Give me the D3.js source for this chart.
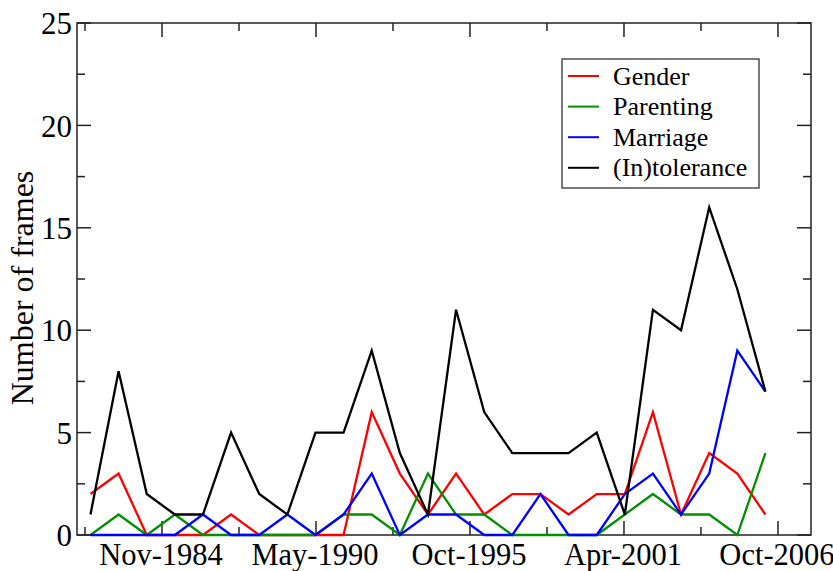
<!doctype html>
<html>
<head>
<meta charset="utf-8">
<script src="https://cdn.jsdelivr.net/npm/d3@7"></script>
<style>
  body { margin: 0; background: #fff; }
  text { font-family: "Liberation Serif", "Times New Roman", serif; fill: #000; }
</style>
</head>
<body>
<svg width="833" height="571"></svg>
<script>
    // one point per year (placed around May)
    var years = [1982, 1983, 1984, 1985, 1986, 1987, 1988, 1989, 1990, 1991, 1992, 1993,
                 1994, 1995, 1996, 1997, 1998, 1999, 2000, 2001, 2002, 2003, 2004, 2005, 2006];

    var gender      = [2, 3, 0, 0, 0, 1, 0, 0, 0, 0, 6, 3, 1, 3, 1, 2, 2, 1, 2, 2, 6, 1, 4, 3, 1];
    var parenting   = [0, 1, 0, 1, 0, 0, 0, 0, 0, 1, 1, 0, 3, 1, 1, 0, 0, 0, 0, 1, 2, 1, 1, 0, 4];
    var marriage    = [0, 0, 0, 0, 1, 0, 0, 1, 0, 1, 3, 0, 1, 1, 0, 0, 2, 0, 0, 2, 3, 1, 3, 9, 7];
    var intolerance = [1, 8, 2, 1, 1, 5, 2, 1, 5, 5, 9, 4, 1, 11, 6, 4, 4, 4, 5, 1, 11, 10, 16, 12, 7];

    var seriesNames = ["Gender", "Parenting", "Marriage", "(In)tolerance"];
    var seriesColors = ["#ff0000", "#009000", "#0000ff", "#000000"];

    // major ticks are 2000 days apart, minor every 1000 days
    var xTickDates = ["1984-11-15", "1990-05-08", "1995-10-29", "2001-04-20", "2006-10-11"];
    var xTickLabels = ["Nov-1984", "May-1990", "Oct-1995", "Apr-2001", "Oct-2006"];
    var yTicks = [0, 5, 10, 15, 20, 25];

    var parse = d3.timeParse("%Y-%m-%d");
    var svg = d3.select("svg");

    var pLeft = 77, pRight = 811, pTop = 23, pBottom = 535;

    var x = d3.scaleTime()
        .domain([new Date(1981, 10, 7), new Date(2007, 11, 14)])
        .range([pLeft, pRight]);
    var y = d3.scaleLinear().domain([0, 25]).range([pBottom, pTop]);

    var majorX = xTickDates.map(parse);
    var minorX = [];
    majorX.forEach(function(d, i) {
        if (i == 0) minorX.push(d3.timeDay.offset(d, -1000));
        minorX.push(d3.timeDay.offset(d, 1000));
    });
    minorX = minorX.filter(function(d) { return x(d) >= pLeft && x(d) <= pRight; });
    var minorY = [2.5, 7.5, 12.5, 17.5, 22.5];

    var frame = svg.append("g").attr("stroke", "#222").attr("stroke-width", 1.5);

    // inward ticks on all four sides
    function xTick(d, len) {
        frame.append("line").attr("x1", x(d)).attr("x2", x(d)).attr("y1", pBottom).attr("y2", pBottom - len);
        frame.append("line").attr("x1", x(d)).attr("x2", x(d)).attr("y1", pTop).attr("y2", pTop + len);
    }
    function yTick(v, len) {
        frame.append("line").attr("y1", y(v)).attr("y2", y(v)).attr("x1", pLeft).attr("x2", pLeft + len);
        frame.append("line").attr("y1", y(v)).attr("y2", y(v)).attr("x1", pRight).attr("x2", pRight - len);
    }
    majorX.forEach(function(d) { xTick(d, 14); });
    minorX.forEach(function(d) { xTick(d, 8); });
    yTicks.forEach(function(v) { yTick(v, 14); });
    minorY.forEach(function(v) { yTick(v, 8); });

    // lines
    var line = d3.line()
        .x(function(d, i) { return x(new Date(years[i], 4, 1)); })
        .y(function(d) { return y(d); });

    [gender, parenting, marriage, intolerance].forEach(function(s, k) {
        svg.append("path")
           .attr("d", line(s))
           .attr("fill", "none")
           .attr("stroke", seriesColors[k])
           .attr("stroke-width", 2.3)
           .attr("stroke-linejoin", "miter");
    });

    frame.append("rect")
         .attr("x", pLeft).attr("y", pTop)
         .attr("width", pRight - pLeft).attr("height", pBottom - pTop)
         .attr("fill", "none");

    // tick labels
    svg.selectAll(".xlab")
       .data(majorX)
       .enter().append("text")
       .attr("x", function(d) { return x(d) - 1; })
       .attr("y", 565)
       .attr("text-anchor", "middle")
       .attr("font-size", "30.5px")
       .text(function(d, i) { return xTickLabels[i]; });

    svg.selectAll(".ylab")
       .data(yTicks)
       .enter().append("text")
       .attr("x", pLeft - 5)
       .attr("y", function(d) { return y(d); })
       .attr("dy", "0.36em")
       .attr("text-anchor", "end")
       .attr("font-size", "31px")
       .text(function(d) { return d; });

    svg.append("text")
       .attr("transform", "translate(33," + 288 + ") rotate(-90)")
       .attr("text-anchor", "middle")
       .attr("font-size", "32px")
       .text("Number of frames");

    // legend
    var lg = svg.append("g");
    lg.append("rect")
      .attr("x", 562).attr("y", 59)
      .attr("width", 197).attr("height", 129)
      .attr("fill", "#fff")
      .attr("stroke", "#222")
      .attr("stroke-width", 1.2);

    seriesNames.forEach(function(name, i) {
        var ly = 76 + i * 30.6;
        lg.append("line")
          .attr("x1", 568).attr("x2", 599)
          .attr("y1", ly).attr("y2", ly)
          .attr("stroke", seriesColors[i])
          .attr("stroke-width", 2);
        lg.append("text")
          .attr("x", 613).attr("y", ly)
          .attr("dy", "0.33em")
          .attr("font-size", "26px")
          .text(name);
    });
</script>
</body>
</html>
